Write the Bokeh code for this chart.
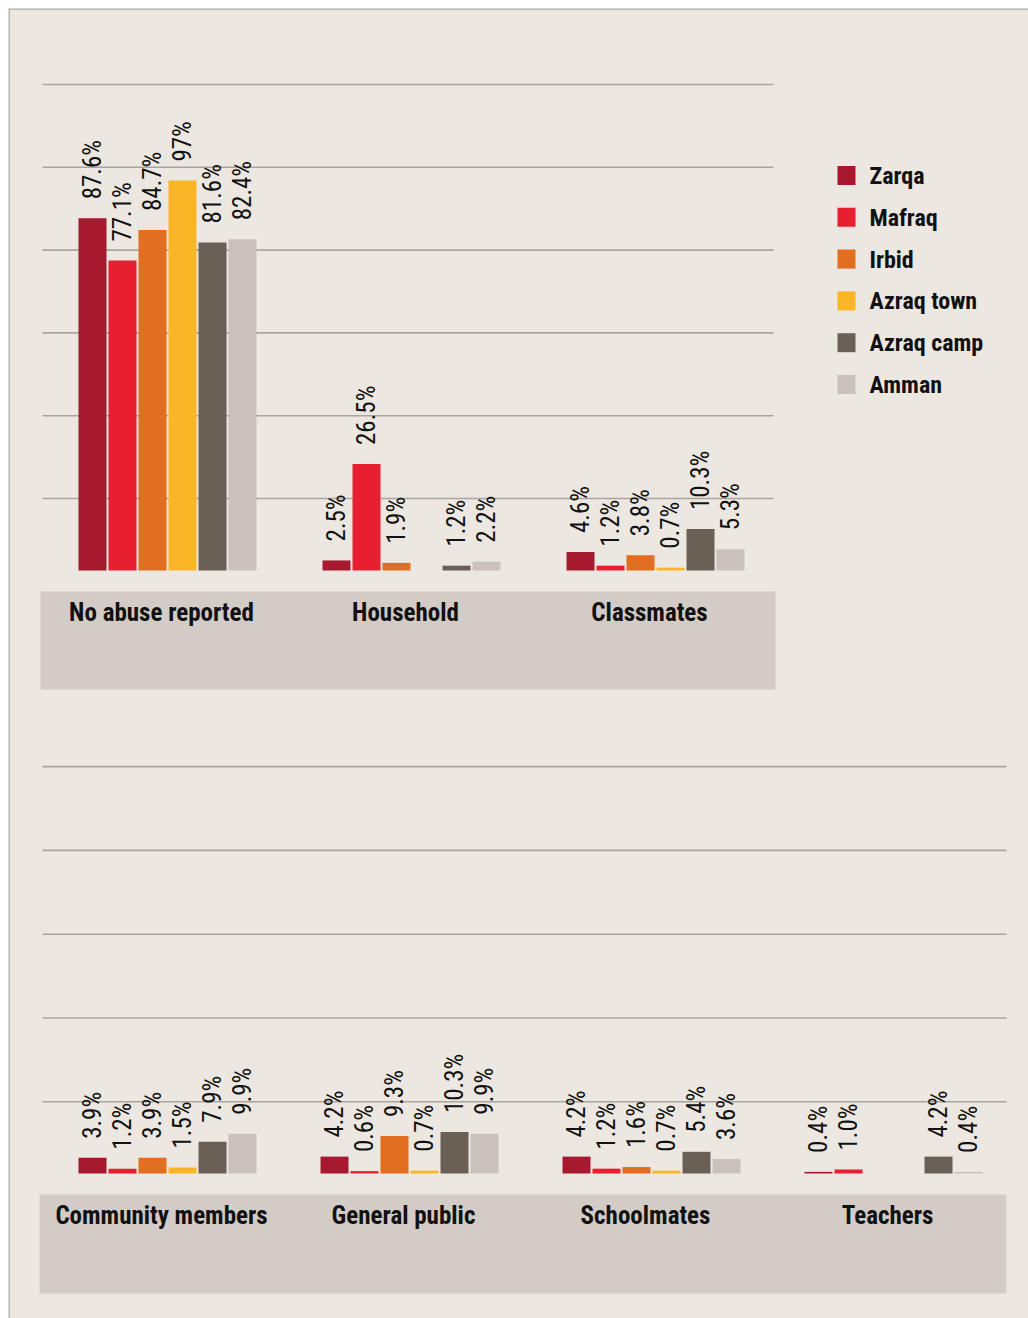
import math
from bokeh.plotting import figure
from bokeh.models import Range1d, ColumnDataSource, Span
from bokeh.embed import file_html
from bokeh.resources import INLINE
from bokeh.core.properties import value

# ---------------- data ----------------
cities = ["Zarqa", "Mafraq", "Irbid", "Azraq town", "Azraq camp", "Amman"]
city_colors = ["#A6192E", "#E81F30", "#E26E1F", "#FBB627", "#6A6056", "#CBC1BC"]

top_categories = ["No abuse reported", "Household", "Classmates"]
no_abuse = [87.6, 77.1, 84.7, 97, 81.6, 82.4]
household = [2.5, 26.5, 1.9, None, 1.2, 2.2]
classmates = [4.6, 1.2, 3.8, 0.7, 10.3, 5.3]

bottom_categories = ["Community members", "General public", "Schoolmates", "Teachers"]
community_members = [3.9, 1.2, 3.9, 1.5, 7.9, 9.9]
general_public = [4.2, 0.6, 9.3, 0.7, 10.3, 9.9]
schoolmates = [4.2, 1.2, 1.6, 0.7, 5.4, 3.6]
teachers = [0.4, 1.0, None, None, 4.2, 0.4]

top_series = [no_abuse, household, classmates]
bottom_series = [community_members, general_public, schoolmates, teachers]

# ---------------- style / layout ----------------
BG = "#ECE7E1"
BAND = "#D3CBC5"
GRID = "#ABA49E"
TEXT = "#111111"
FONT = "'Roboto Condensed', 'DejaVu Sans Condensed'"
W, H = 1028, 1318
PX = 4.02            # pixels per percentage point
SLOT = 30.0          # pixels per bar slot
TOP_BASE, BOT_BASE = 570, 1173
TOP_PITCH, BOT_PITCH = 244 / SLOT, 242 / SLOT
BAR_W = 28 / SLOT

p = figure(width=W, height=H, output_backend="svg", toolbar_location=None, tools="",
           x_range=Range1d(8, W), y_range=Range1d(H, 8),
           x_axis_location=None, y_axis_location=None,
           min_border=0, min_border_left=8, min_border_top=8)
p.grid.visible = False
p.background_fill_color = BG
p.border_fill_color = "white"
p.outline_line_color = None

# page border (top and left edges only)
p.add_layout(Span(location=8.5, dimension="width", line_color="#A8A8A8", line_width=1.5))
p.add_layout(Span(location=8.5, dimension="height", line_color="#A8A8A8", line_width=1.5))

start = -(92 - 8) / SLOT
p.extra_x_ranges = {"slots": Range1d(start, start + (W - 8) / SLOT)}
p.extra_y_ranges = {
    "top_y": Range1d((TOP_BASE - H) / PX, (TOP_BASE - 8) / PX),
    "bot_y": Range1d((BOT_BASE - H) / PX, (BOT_BASE - 8) / PX),
}

# gridlines
top_grid = [498 - i * 82.8 for i in range(6)]
bot_grid = [1101.3 - i * 83.8 for i in range(5)]
p.segment(x0=[42] * len(top_grid), x1=[773] * len(top_grid), y0=top_grid, y1=top_grid,
          line_color=GRID, line_width=1.6)
p.segment(x0=[42] * len(bot_grid), x1=[1006] * len(bot_grid), y0=bot_grid, y1=bot_grid,
          line_color=GRID, line_width=1.6)

# category bands
p.quad(left=[40], right=[775], top=[591], bottom=[689], fill_color=BAND, line_color=None)
p.quad(left=[39], right=[1006], top=[1194], bottom=[1293], fill_color=BAND, line_color=None)


def build(series, pitch):
    xs, tops, cols, labels = [], [], [], []
    for gi, vals in enumerate(series):
        for ci, v in enumerate(vals):
            if v is None:
                continue
            xs.append(gi * pitch + ci)
            tops.append(v)
            cols.append(city_colors[ci])
            labels.append(f"{v}%")
    return ColumnDataSource(dict(x=xs, top=tops, color=cols, label=labels))


for series, cats, pitch, yname, band_top in [
    (top_series, top_categories, TOP_PITCH, "top_y", 591),
    (bottom_series, bottom_categories, BOT_PITCH, "bot_y", 1194),
]:
    src = build(series, pitch)
    p.vbar(x="x", top="top", bottom=0, width=BAR_W, source=src, fill_color="color",
           line_color=None, x_range_name="slots", y_range_name=yname)
    p.text(x="x", y="top", text="label", source=src, angle=math.pi / 2,
           text_align="left", text_baseline="middle", y_offset=-19,
           text_font=value(FONT), text_font_size="25px", text_color=TEXT,
           x_range_name="slots", y_range_name=yname)
    # category labels
    p.text(x=[gi * pitch + 2.5 for gi in range(len(cats))], y=[band_top + 21] * len(cats),
           text=cats, x_range_name="slots", text_align="center", text_baseline="alphabetic",
           x_offset=-6, text_font=value(FONT), text_font_style="bold",
           text_font_size="25px", text_color=TEXT)

# legend
LEG_Y0, LEG_STEP = 175, 41.8
leg_y = [LEG_Y0 + i * LEG_STEP for i in range(len(cities))]
p.rect(x=[846] * len(cities), y=leg_y, width=18, height=19, fill_color=city_colors,
       line_color=None)
p.text(x=[869] * len(cities), y=[y + 0.5 for y in leg_y], text=cities,
       text_align="left", text_baseline="alphabetic", text_font=value(FONT),
       text_font_style="bold", text_font_size="24px", text_color=TEXT)

open("out.html", "w").write(file_html(p, INLINE))
